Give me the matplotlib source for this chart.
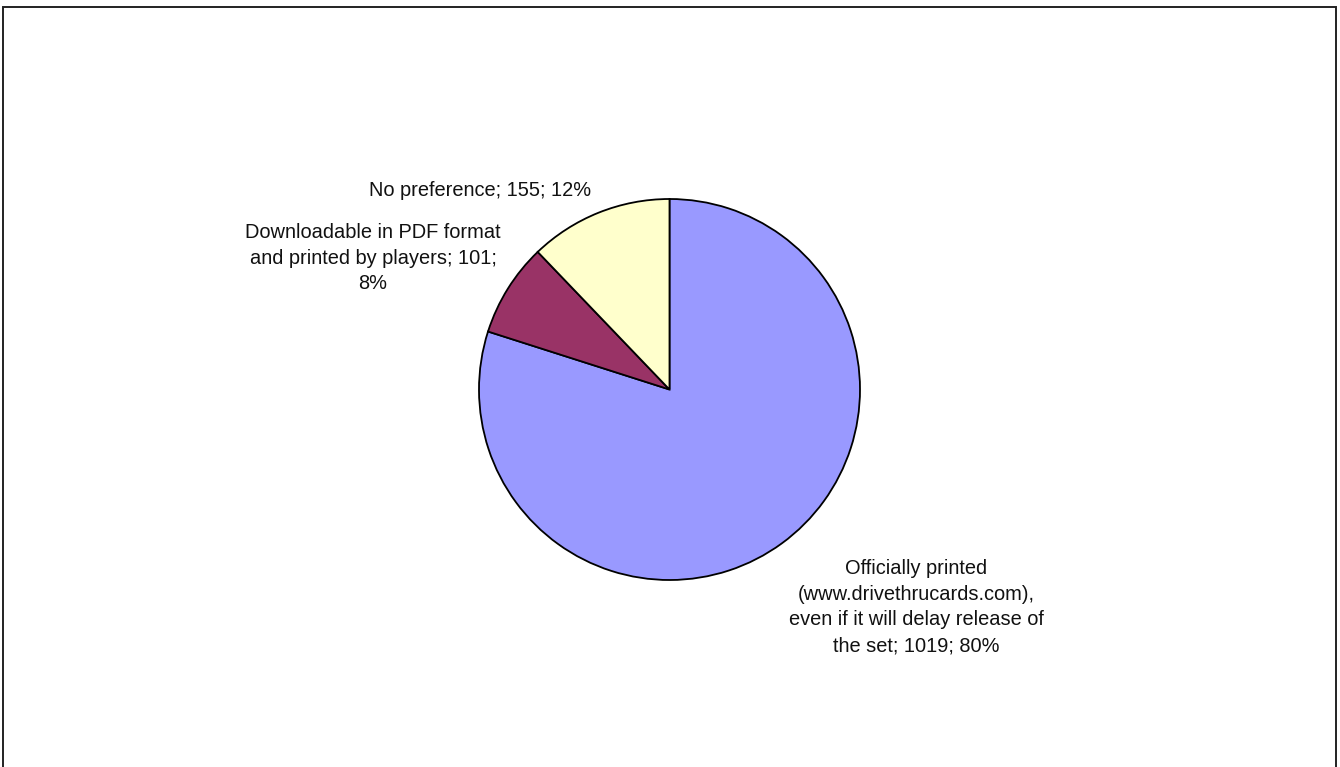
import matplotlib
matplotlib.use("Agg")
import matplotlib.pyplot as plt
from matplotlib.patches import Rectangle

# data
categories = [
    "Officially printed\n(www.drivethrucards.com),\neven if it will delay release of\nthe set",
    "Downloadable in PDF format\nand printed by players",
    "No preference",
]
counts = [1019, 101, 155]
percents = [80, 8, 12]
colors = ["#9999FF", "#993366", "#FFFFCC"]

plt.rcParams["font.family"] = ["Liberation Sans", "DejaVu Sans"]

W, H = 1340, 767
fig = plt.figure(figsize=(W / 100, H / 100), dpi=100)

# outer frame (bottom edge runs off the picture)
fig.patches.append(Rectangle((3 / W, -0.01), 1333 / W, (H - 7) / H + 0.01,
                             transform=fig.transFigure, fill=False,
                             edgecolor="#222222", linewidth=1.4))

# pie axes: centre (669.5, 389.5) px, radius 190.5 px
r = 190.5
cx, cy = 669.5, 389.5
ax = fig.add_axes([(cx - r) / W, (H - cy - r) / H, 2 * r / W, 2 * r / H])
ax.pie(counts, colors=colors, startangle=90, counterclock=False, radius=1,
       wedgeprops=dict(edgecolor="black", linewidth=1.3))
ax.set_xlim(-1, 1)
ax.set_ylim(-1, 1)
ax.set_aspect("auto")
ax.axis("off")

# data labels, placed in pie units
label_pos = [(1.294, -1.142), (-1.556, 0.690), (-0.995, 1.042)]
labels = [f"{c}; {n}; {p}%" for c, n, p in zip(categories, counts, percents)]
labels[1] = "Downloadable in PDF format\nand printed by players; 101;\n8%"
for (x, y), txt in zip(label_pos, labels):
    ax.text(x, y, txt, ha="center", va="center", fontsize=14.4,
            linespacing=1.45, clip_on=False, color="#111111")

fig.savefig("out.png", dpi=100)
